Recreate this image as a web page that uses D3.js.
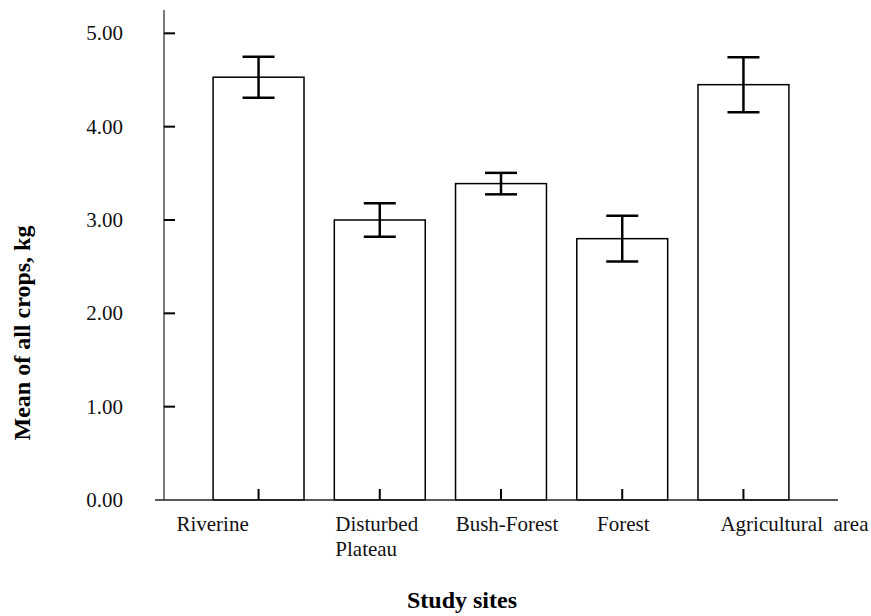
<!DOCTYPE html>
<html lang="en">
<head>
  <meta charset="UTF-8">
  <title>Mean of all crops by study site</title>
  <script src="https://d3js.org/d3.v7.min.js"></script>
  <style>
    body {
      margin: 0;
      background-color: white;
    }
    svg {
      display: block;
      font-family: "Liberation Serif", "Times New Roman", serif;
    }
  </style>
</head>
<body>
  <div id="chart"></div>

  <script>
    // data
    const sites = ["Riverine", "Disturbed Plateau", "Bush-Forest", "Forest", "Agricultural area"];
    const siteLines = [["Riverine"], ["Disturbed", "Plateau"], ["Bush-Forest"], ["Forest"], ["Agricultural\u00a0 area"]];
    const means = [4.53, 3.00, 3.39, 2.80, 4.45];
    const errors = [0.22, 0.18, 0.115, 0.245, 0.295];
    const yTicks = [0, 1, 2, 3, 4, 5];

    // labels in the original are not centred on the bars
    const labelShift = [-46, -4, 6, 1, 51];

    const svgWidth = 871;
    const svgHeight = 616;

    const svg = d3.select("#chart").append("svg")
      .attr("width", svgWidth)
      .attr("height", svgHeight);

    const x = d3.scaleBand()
      .domain(sites)
      .range([164, 838])
      .paddingInner(0.25)
      .paddingOuter(0.405);

    const y = d3.scaleLinear()
      .domain([0, 5.25])
      .range([500, 10]);

    const x0 = x.range()[0];

    // Bars
    svg.selectAll("rect.bar")
      .data(means)
      .enter()
      .append("rect")
      .attr("class", "bar")
      .attr("x", (d, i) => x(sites[i]))
      .attr("y", d => y(d))
      .attr("width", x.bandwidth())
      .attr("height", d => y(0) - y(d))
      .attr("fill", "white")
      .attr("stroke", "black")
      .attr("stroke-width", 1.5);

    // X axis line
    svg.append("line")
      .attr("x1", 155)
      .attr("x2", x.range()[1])
      .attr("y1", y(0))
      .attr("y2", y(0))
      .attr("stroke", "#222")
      .attr("stroke-width", 1.5);

    // Y axis line
    svg.append("line")
      .attr("x1", x0)
      .attr("x2", x0)
      .attr("y1", y(5.25))
      .attr("y2", y(0))
      .attr("stroke", "#222")
      .attr("stroke-width", 1.2);

    // Y ticks (pointing inward) and labels
    svg.selectAll("line.ytick")
      .data(yTicks.filter(d => d > 0))
      .enter()
      .append("line")
      .attr("x1", x0)
      .attr("x2", x0 + 11)
      .attr("y1", d => y(d))
      .attr("y2", d => y(d))
      .attr("stroke", "black")
      .attr("stroke-width", 2);

    svg.selectAll("text.ylabel")
      .data(yTicks)
      .enter()
      .append("text")
      .attr("x", 123)
      .attr("y", d => y(d))
      .attr("dy", "0.33em")
      .attr("text-anchor", "end")
      .attr("font-size", "21px")
      .attr("fill", "#111")
      .text(d => d3.format(".2f")(d));

    // X ticks at bar centres, pointing up
    svg.selectAll("line.xtick")
      .data(sites)
      .enter()
      .append("line")
      .attr("x1", d => x(d) + x.bandwidth() / 2)
      .attr("x2", d => x(d) + x.bandwidth() / 2)
      .attr("y1", y(0))
      .attr("y2", y(0) - 11)
      .attr("stroke", "black")
      .attr("stroke-width", 2);

    // Error bars
    const capHalf = 16;
    means.forEach((m, i) => {
      const cx = x(sites[i]) + x.bandwidth() / 2;
      const g = svg.append("g")
        .attr("stroke", "black")
        .attr("stroke-width", 2.5);
      g.append("line")
        .attr("x1", cx).attr("x2", cx)
        .attr("y1", y(m + errors[i])).attr("y2", y(m - errors[i]));
      g.append("line")
        .attr("x1", cx - capHalf).attr("x2", cx + capHalf)
        .attr("y1", y(m + errors[i])).attr("y2", y(m + errors[i]));
      g.append("line")
        .attr("x1", cx - capHalf).attr("x2", cx + capHalf)
        .attr("y1", y(m - errors[i])).attr("y2", y(m - errors[i]));
    });

    // Category labels
    siteLines.forEach((lines, i) => {
      const cx = x(sites[i]) + x.bandwidth() / 2 + labelShift[i];
      const t = svg.append("text")
        .attr("x", cx)
        .attr("y", 531)
        .attr("font-size", "21px")
        .attr("fill", "#111")
        .attr("text-anchor", lines.length > 1 ? "start" : "middle");
      lines.forEach((line, j) => {
        t.append("tspan")
          .attr("x", lines.length > 1 ? x(sites[i]) + 1 : cx)
          .attr("dy", j === 0 ? 0 : 24.5)
          .text(line);
      });
    });

    // Axis titles
    svg.append("text")
      .attr("x", 462)
      .attr("y", 608)
      .attr("text-anchor", "middle")
      .attr("font-size", "24px")
      .attr("font-weight", "bold")
      .text("Study sites");

    svg.append("text")
      .attr("transform", "translate(30,333) rotate(-90)")
      .attr("text-anchor", "middle")
      .attr("font-size", "24px")
      .attr("font-weight", "bold")
      .text("Mean of all crops, kg");
  </script>
</body>
</html>
